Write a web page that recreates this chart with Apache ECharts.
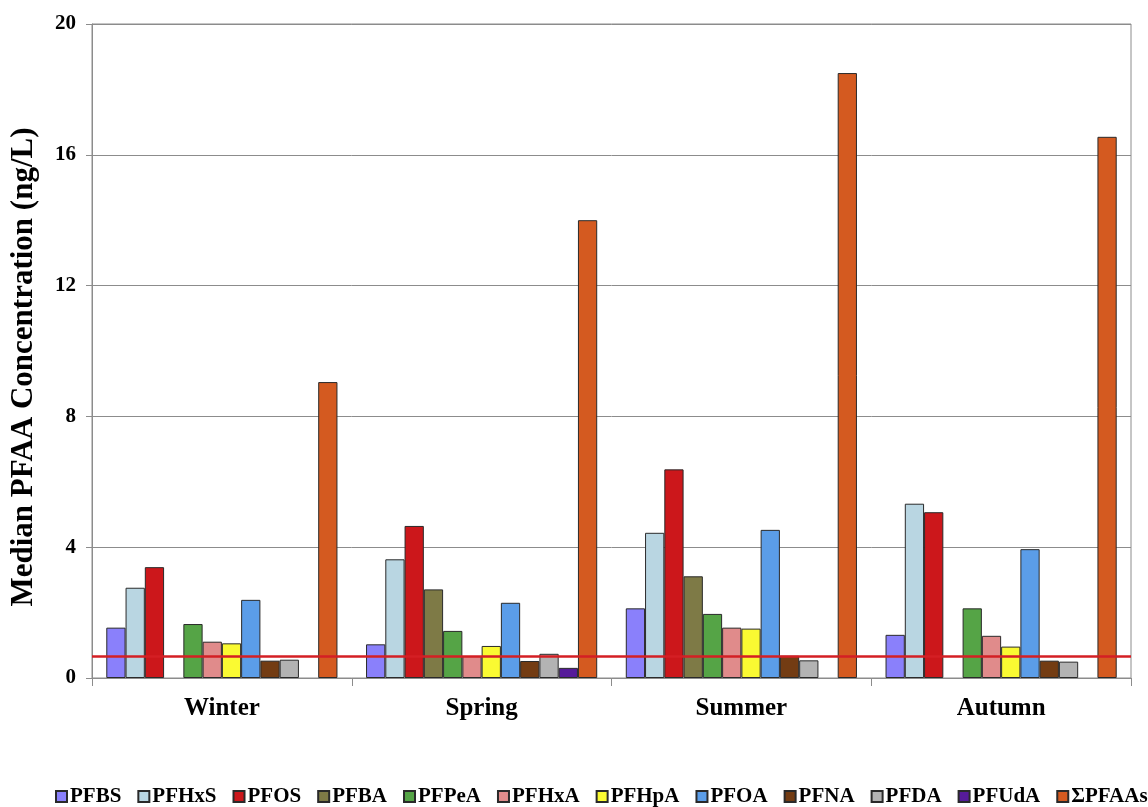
<!DOCTYPE html>
<html>
<head>
<meta charset="utf-8">
<script src="https://cdn.jsdelivr.net/npm/echarts@6/dist/echarts.min.js"></script>
<style>
  html, body { margin: 0; padding: 0; background: #fff; }
  #chart { width: 1148px; height: 807px; }
</style>
</head>
<body>
<div id="chart"></div>
<script>
// seasons
const seasons = ['Winter', 'Spring', 'Summer', 'Autumn'];

// median values per compound (ng/L), one per season; null = not shown
const PFBS   = [1.54, 1.03, 2.13, 1.32];
const PFHxS  = [2.76, 3.63, 4.44, 5.33];
const PFOS   = [3.39, 4.65, 6.38, 5.07];
const PFBA   = [null, 2.71, 3.11, null];
const PFPeA  = [1.65, 1.44, 1.96, 2.13];
const PFHxA  = [1.11, 0.67, 1.54, 1.29];
const PFHpA  = [1.06, 0.98, 1.51, 0.96];
const PFOA   = [2.39, 2.30, 4.53, 3.94];
const PFNA   = [0.53, 0.52, 0.68, 0.53];
const PFDA   = [0.56, 0.74, 0.54, 0.50];
const PFUdA  = [null, 0.31, null, null];
const sumPFAAs = [9.05, 14.0, 18.5, 16.55];

const limitLine = 0.67;
const yTicks = [0, 4, 8, 12, 16, 20];

const names = ['PFBS', 'PFHxS', 'PFOS', 'PFBA', 'PFPeA', 'PFHxA', 'PFHpA', 'PFOA', 'PFNA', 'PFDA', 'PFUdA', 'ΣPFAAs'];
const values = [PFBS, PFHxS, PFOS, PFBA, PFPeA, PFHxA, PFHpA, PFOA, PFNA, PFDA, PFUdA, sumPFAAs];
const colors = ['#8A80FB', '#B9D6E2', '#CC171B', '#7E7A46', '#55A446', '#E08B8B', '#FAFA32',
                '#5B9DE8', '#733C13', '#B3B3B3', '#561B99', '#D45A20'];

const serif = '"Liberation Serif", "DejaVu Serif", serif';

const chart = echarts.init(document.getElementById('chart'));

const series = names.map((n, i) => {
  const s = {
    name: n,
    type: 'bar',
    data: values[i],
    barGap: '0%',
    barCategoryGap: '11%',
    itemStyle: { color: colors[i], borderColor: '#2a2a2a', borderWidth: 1 },
    emphasis: { disabled: true }
  };
  if (i === names.length - 1) {
    s.markLine = {
      silent: true,
      symbol: 'none',
      label: { show: false },
      lineStyle: { color: '#D41F24', width: 2.5, type: 'solid' },
      data: [{ yAxis: limitLine }]
    };
  }
  return s;
});

chart.setOption({
  animation: false,
  color: colors,
  grid: {
    left: 91, right: 17, top: 24, bottom: 129,
    show: true, borderColor: '#8c8c8c', borderWidth: 1
  },
  legend: {
    bottom: 0,
    left: 55,
    padding: [0, 0],
    icon: 'rect',
    itemWidth: 11,
    itemHeight: 11,
    itemGap: 16,
    textStyle: { fontFamily: serif, fontWeight: 'bold', fontSize: 21, color: '#000', padding: [0, 0, 0, -2] },
    data: names
  },
  xAxis: {
    type: 'category',
    data: seasons,
    axisLine: { lineStyle: { color: '#8c8c8c' } },
    axisTick: { show: true, length: 8, lineStyle: { color: '#8c8c8c' } },
    axisLabel: { fontFamily: serif, fontWeight: 'bold', fontSize: 25, color: '#000', margin: 18 }
  },
  yAxis: {
    type: 'value',
    min: yTicks[0],
    max: yTicks[yTicks.length - 1],
    interval: 4,
    name: 'Median PFAA Concentration (ng/L)',
    nameLocation: 'middle',
    nameGap: 53,
    nameTextStyle: { fontFamily: serif, fontWeight: 'bold', fontSize: 31, color: '#000', padding: [0, 32, 0, 0] },
    axisLine: { show: true, lineStyle: { color: '#8c8c8c' } },
    axisTick: { show: true, length: 6, inside: false, lineStyle: { color: '#8c8c8c' } },
    axisLabel: { fontFamily: serif, fontWeight: 'bold', fontSize: 21, color: '#000', margin: 16 },
    splitLine: { lineStyle: { color: '#8c8c8c', width: 1 } }
  },
  series: series
});
</script>
</body>
</html>
